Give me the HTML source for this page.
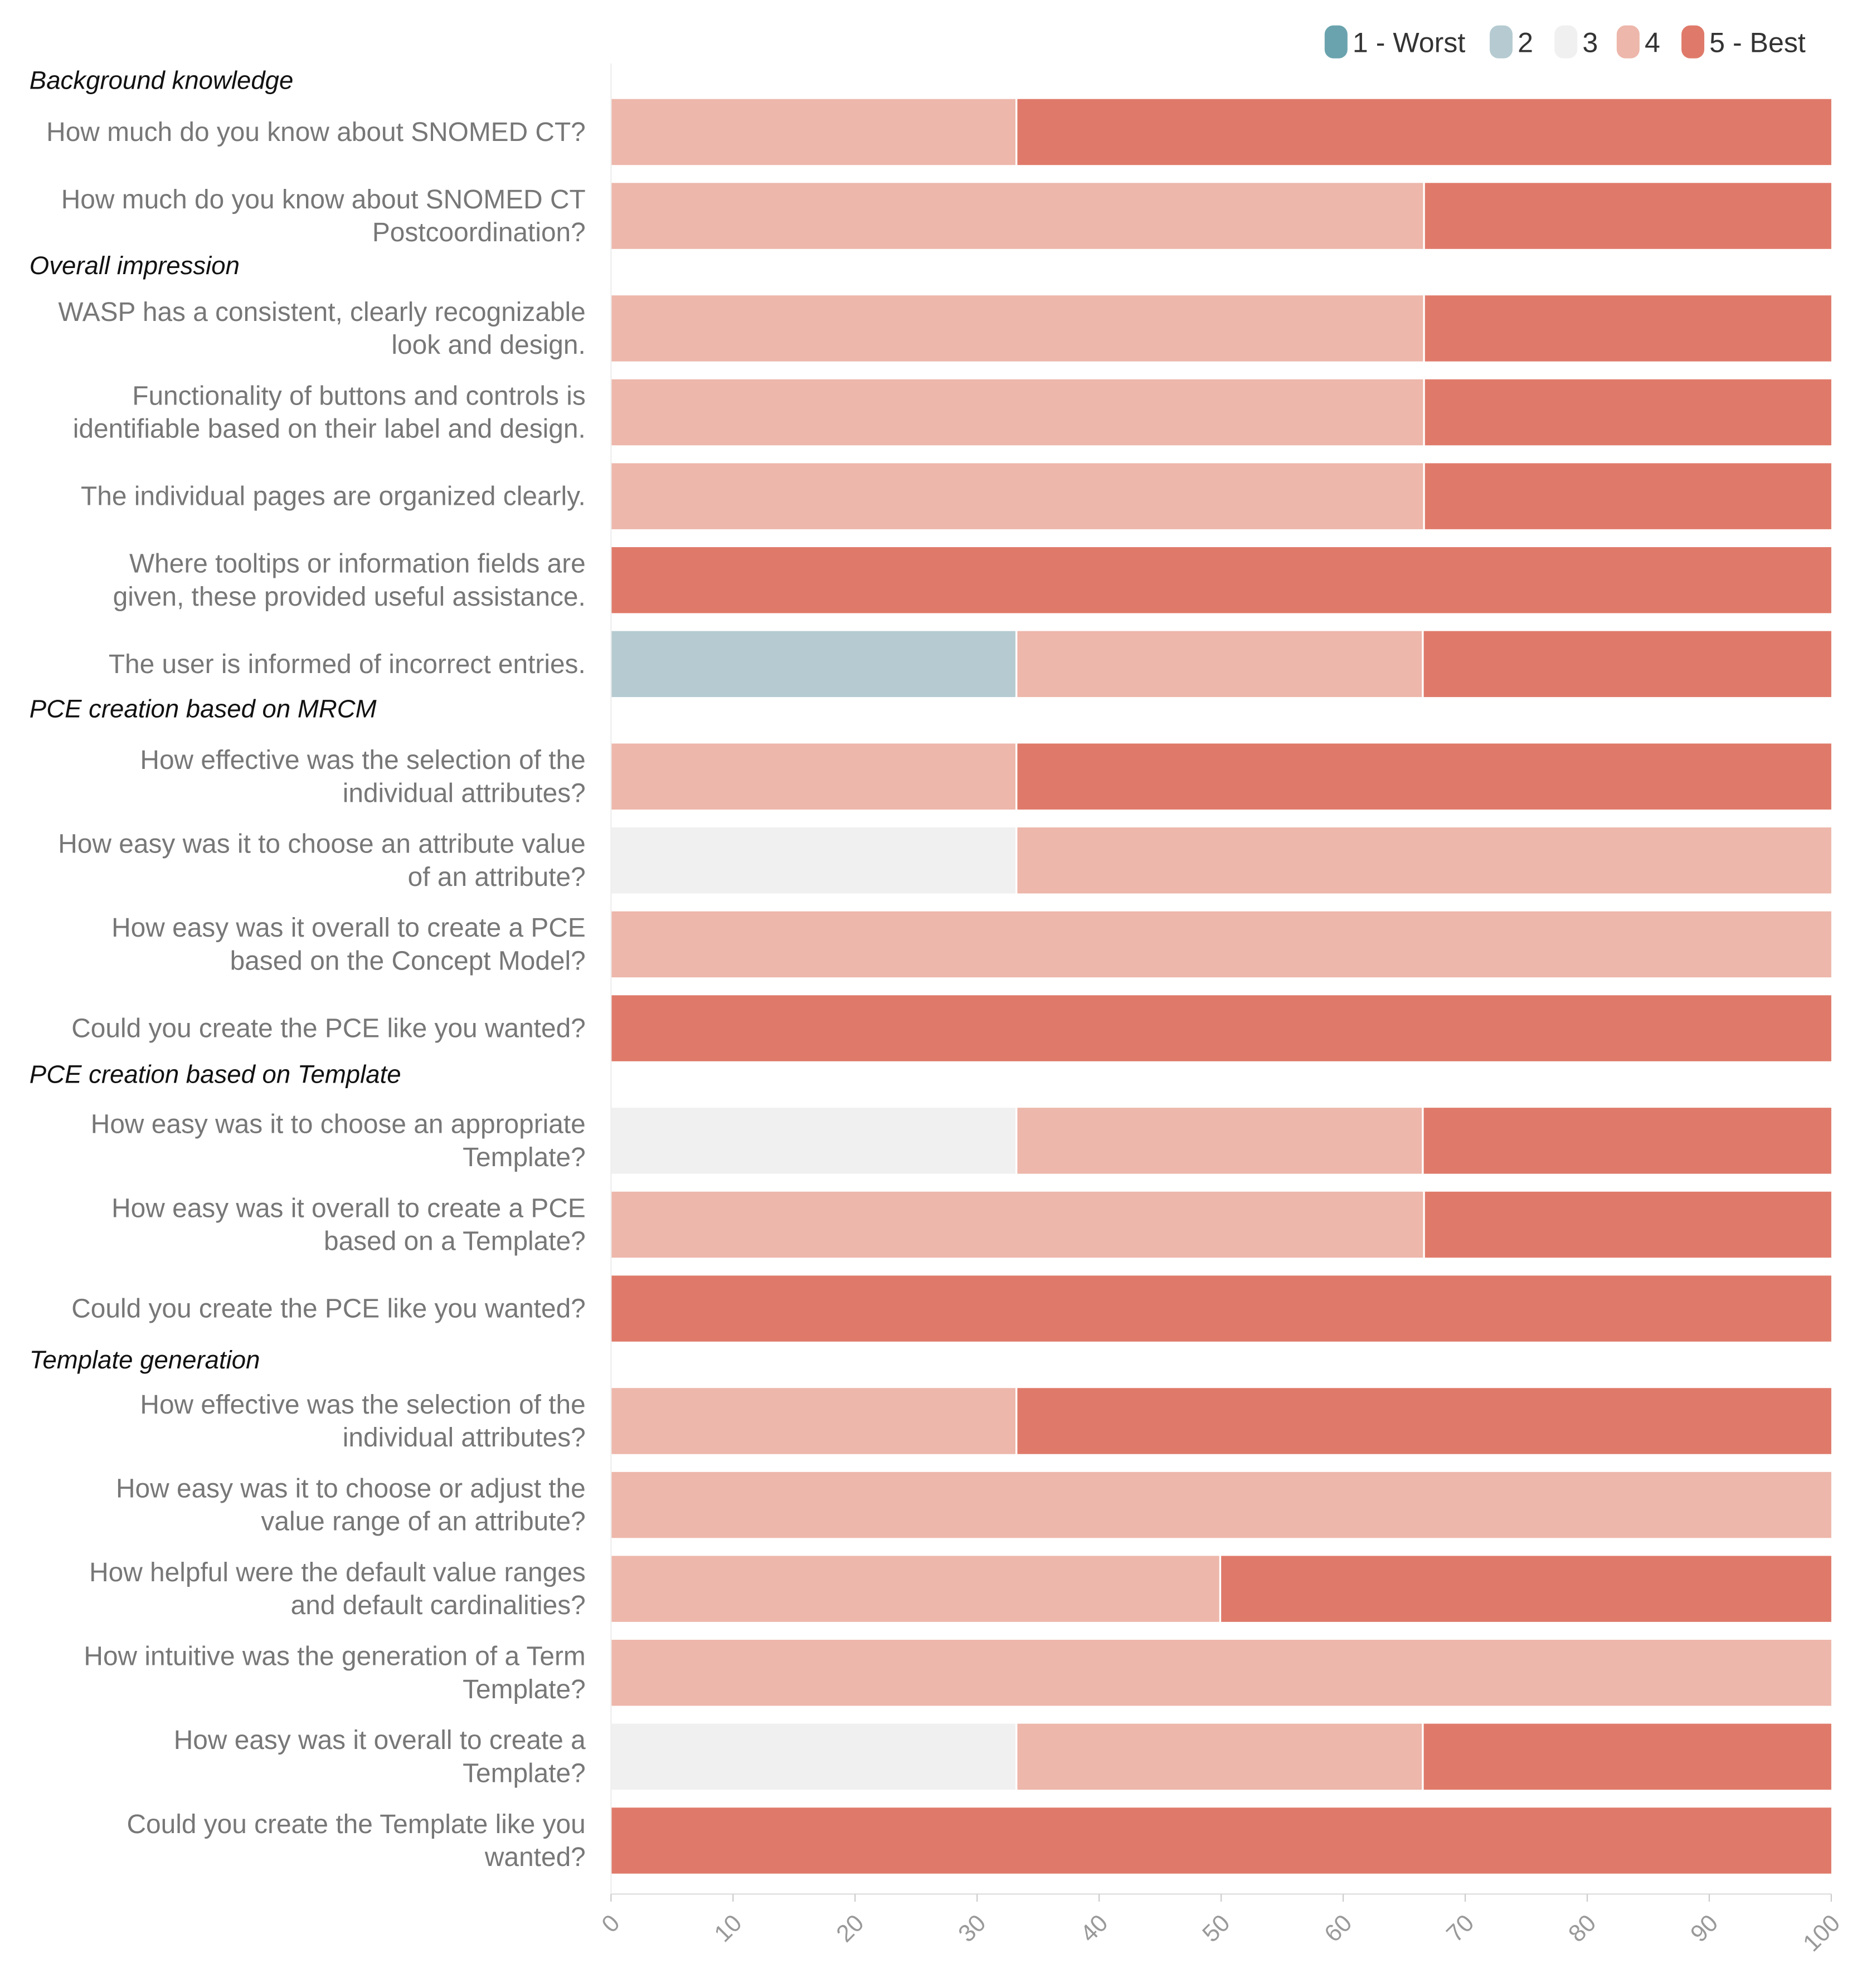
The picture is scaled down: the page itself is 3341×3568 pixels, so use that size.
<!DOCTYPE html>
<html><head><meta charset="utf-8"><style>
html,body{margin:0;padding:0;background:#fff}
svg{display:block}
text{font-family:"Liberation Sans",sans-serif}
</style></head><body>
<svg id="chart" width="3341" height="3568" viewBox="0 0 1466 1566" xmlns="http://www.w3.org/2000/svg">
<g id="legend"></g>
<g id="plot"></g>
<g id="axis"></g>
</svg>
<script>
const sections = ["Background knowledge","Overall impression","PCE creation based on MRCM","PCE creation based on Template","Template generation"];
const sectionOf = [0,0,1,1,1,1,1,2,2,2,2,3,3,3,4,4,4,4,4,4];
const questions = [
 ["How much do you know about SNOMED CT?"],
 ["How much do you know about SNOMED CT","Postcoordination?"],
 ["WASP has a consistent, clearly recognizable","look and design."],
 ["Functionality of buttons and controls is","identifiable based on their label and design."],
 ["The individual pages are organized clearly."],
 ["Where tooltips or information fields are","given, these provided useful assistance."],
 ["The user is informed of incorrect entries."],
 ["How effective was the selection of the","individual attributes?"],
 ["How easy was it to choose an attribute value","of an attribute?"],
 ["How easy was it overall to create a PCE","based on the Concept Model?"],
 ["Could you create the PCE like you wanted?"],
 ["How easy was it to choose an appropriate","Template?"],
 ["How easy was it overall to create a PCE","based on a Template?"],
 ["Could you create the PCE like you wanted?"],
 ["How effective was the selection of the","individual attributes?"],
 ["How easy was it to choose or adjust the","value range of an attribute?"],
 ["How helpful were the default value ranges","and default cardinalities?"],
 ["How intuitive was the generation of a Term","Template?"],
 ["How easy was it overall to create a","Template?"],
 ["Could you create the Template like you","wanted?"]
];
const s1 = [0,0,0,0,0,0,0,0,0,0,0,0,0,0,0,0,0,0,0,0];
const s2 = [0,0,0,0,0,0,33.3,0,0,0,0,0,0,0,0,0,0,0,0,0];
const s3 = [0,0,0,0,0,0,0,0,33.3,0,0,33.3,0,0,0,0,0,0,33.3,0];
const s4 = [33.3,66.7,66.7,66.7,66.7,0,33.3,33.3,66.7,100,0,33.3,66.7,0,33.3,100,50,100,33.3,0];
const s5 = [66.7,33.3,33.3,33.3,33.3,100,33.4,66.7,0,0,100,33.4,33.3,100,66.7,0,50,0,33.4,100];
const seriesNames = ["1 - Worst","2","3","4","5 - Best"];
const ticks = [0,10,20,30,40,50,60,70,80,90,100];

const colors = ["#6aa3ae","#b5cbd1","#f0f0f0","#edb7ab","#df7a6a"];
const NS="http://www.w3.org/2000/svg";
function mk(tag,attrs,parent){const e=document.createElementNS(NS,tag);for(const k in attrs)e.setAttribute(k,attrs[k]);parent.appendChild(e);return e;}
const X0=481,X1=1442;
function xs(v){return X0+(X1-X0)*Math.min(v,100)/100;}
const plot=document.getElementById('plot');
const series=[s1,s2,s3,s4,s5];
let y=78, prevSec=-1;
const secY=[63,209,558,846,1071];
for(let i=0;i<questions.length;i++){
  if(i>0){y+=66.1; if(sectionOf[i]!==prevSec) y+=22.5;}
  if(sectionOf[i]!==prevSec){
    const t=mk('text',{x:23,y:secY[sectionOf[i]]+7,'font-size':20,'font-style':'italic',fill:'#111'},plot);
    
    
    t.textContent=sections[sectionOf[i]];
    prevSec=sectionOf[i];
  }
  const lines=questions[i];
  const cy=y+26;
  lines.forEach((ln,j)=>{
    const ty=cy+7+(lines.length===2?(j===0?-13:13):0);
    const t=mk('text',{x:461,y:ty,'font-size':21,'text-anchor':'end',fill:'#777'},plot);
    
    
    t.textContent=ln;
  });
  let acc=0;
  let last=-1; for(let s=0;s<5;s++) if(series[s][i]>0) last=s;
  for(let s=0;s<5;s++){
    const v=series[s][i]; if(v<=0) continue;
    const end = s===last ? 100 : acc+v;
    const r=mk('rect',{x:xs(acc),y:y,width:Math.max(0,xs(end)-xs(acc)-(s===last?0:1.5)),height:52,fill:colors[s]},plot);
    
    
    acc+=v;
  }
}
const axis=document.getElementById('axis');
const al=mk('line',{x1:X0,x2:X1,y1:1492,y2:1492,stroke:'#ddd','stroke-width':1},axis);


const gl=mk('line',{x1:X0,x2:X0,y1:50,y2:1492,stroke:'#eee','stroke-width':1},axis);


ticks.forEach(t=>{
  const x=xs(t);
  const tk=mk('line',{x1:x,x2:x,y1:1492,y2:1498,stroke:'#ccc'},axis);
  
  
  const tx=mk('text',{x:x+8,y:1516,'font-size':19,'text-anchor':'end',fill:'#999',transform:`rotate(-45 ${x+8} 1516)`},axis);
  
  
  tx.textContent=t;
});
const legend=document.getElementById('legend');
const lx=[1043,1173,1224,1273,1324];
seriesNames.forEach((n,i)=>{
  const r=mk('rect',{x:lx[i],y:20,width:18,height:26,rx:7,fill:colors[i]},legend);
  
  
  const t=mk('text',{x:lx[i]+22,y:41,'font-size':22,fill:'#333'},legend);
  
  
  t.textContent=n;
});
</script>
</body></html>
